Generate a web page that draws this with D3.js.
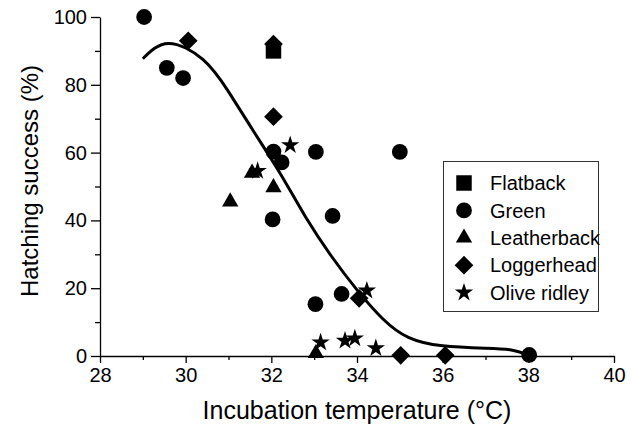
<!DOCTYPE html>
<html>
<head>
<meta charset="utf-8">
<script src="https://cdn.jsdelivr.net/npm/d3@7"></script>
<style>
  body { margin: 0; background: #fff; }
  svg text { font-family: "Liberation Sans", Arial, Helvetica, sans-serif; fill: #000; }
</style>
</head>
<body>
<svg id="chart" width="632" height="431"></svg>
<script>
// species and their points [temperature, hatching %]
let species = ["Flatback", "Green", "Leatherback", "Loggerhead", "Olive ridley"];
let flatback = [[32.05, 90]];
let green = [
  [29.03, 100], [29.56, 85], [29.94, 82], [32.05, 60.3], [32.24, 57.1],
  [33.04, 60.2], [32.03, 40.3], [33.43, 41.3], [33.03, 15.3], [33.64, 18.3],
  [35.0, 60.2], [38.02, 0.3]
];
let leatherback = [[31.04, 45.5], [32.05, 49.7], [31.55, 54], [33.04, 0.8]];
let loggerhead = [
  [30.06, 93], [32.05, 92], [32.05, 70.6], [34.05, 17], [35.02, 0.2], [36.06, 0.2]
];
let oliveRidley = [
  [32.44, 62.2], [31.68, 54.6], [33.15, 4], [33.72, 4.5], [33.95, 5.2],
  [34.44, 2.3], [34.23, 19.3]
];
// fitted curve
let fitCurve = [
  [29.0, 87.7], [29.6, 92.2], [30.4, 87.5], [31.0, 78], [31.6, 66],
  [32.2, 54], [32.8, 41], [33.4, 29.5], [34.0, 19.5], [34.6, 11],
  [35.2, 5.5], [36.0, 3], [37.0, 2.3], [37.6, 1.8], [38.0, 0.3]
];
let xTicks = [28, 30, 32, 34, 36, 38, 40];
let xMinor = [29, 31, 33, 35, 37, 39];
let yTicks = [0, 20, 40, 60, 80, 100];
let yMinor = [10, 30, 50, 70, 90];

let svg = d3.select("#chart");
let scaleX = d3.scaleLinear().domain([28, 40]).range([100, 614]);
let scaleY = d3.scaleLinear().domain([0, 100]).range([356, 17]);

// symbols
let symCircle = d3.symbol().type(d3.symbolCircle).size(195);
let symSquare = d3.symbol().type(d3.symbolSquare).size(240);
let symTriangle = d3.symbol().type(d3.symbolTriangle).size(115);
let symDiamond = d3.symbol().type(d3.symbolSquare).size(175);
let symStar = d3.symbol().type(d3.symbolStar).size(105);
let shapes = {
  "Flatback": { path: symSquare(), rot: 0 },
  "Green": { path: symCircle(), rot: 0 },
  "Leatherback": { path: symTriangle(), rot: 0 },
  "Loggerhead": { path: symDiamond(), rot: 45 },
  "Olive ridley": { path: symStar(), rot: 0 }
};

// minor ticks
svg.append("g")
  .attr("transform", "translate(0, 356)")
  .call(d3.axisBottom(scaleX).tickValues(xMinor).tickSize(4).tickFormat(""))
  .call(g => g.select(".domain").remove());
svg.append("g")
  .attr("transform", "translate(100, 0)")
  .call(d3.axisLeft(scaleY).tickValues(yMinor).tickSize(5).tickFormat(""))
  .call(g => g.select(".domain").remove());

// major axes
let axisX = d3.axisBottom(scaleX).tickValues(xTicks).tickSizeInner(7).tickSizeOuter(0).tickPadding(5);
let axisY = d3.axisLeft(scaleY).tickValues(yTicks).tickSizeInner(9).tickSizeOuter(0).tickPadding(4);
svg.append("g")
  .attr("class", "x-axis")
  .attr("transform", "translate(0, 356)")
  .call(axisX);
svg.append("g")
  .attr("class", "y-axis")
  .attr("transform", "translate(100, 0)")
  .call(axisY);
svg.selectAll(".x-axis text, .y-axis text")
  .style("font-size", "20px")
  .style("font-family", "'Liberation Sans', Arial, sans-serif");
svg.selectAll(".domain, .tick line").attr("stroke", "#000").attr("stroke-width", 1.3);

// axis titles
svg.append("text")
  .attr("x", 357)
  .attr("y", 419)
  .attr("text-anchor", "middle")
  .style("font-size", "25px")
  .text("Incubation temperature (°C)");
svg.append("text")
  .attr("transform", "translate(38, 181) rotate(-90)")
  .attr("text-anchor", "middle")
  .style("font-size", "24px")
  .text("Hatching success (%)");

// fitted line
let line = d3.line()
  .x(d => scaleX(d[0]))
  .y(d => scaleY(d[1]))
  .curve(d3.curveNatural);
svg.append("path")
  .datum(fitCurve)
  .attr("d", line)
  .attr("fill", "none")
  .attr("stroke", "#000")
  .attr("stroke-width", 3);

// points
function drawPoints(data, name) {
  svg.selectAll(".pt-" + name.replace(" ", "-"))
    .data(data)
    .enter()
    .append("path")
    .attr("d", shapes[name].path)
    .attr("transform", d => `translate(${scaleX(d[0])}, ${scaleY(d[1])}) rotate(${shapes[name].rot})`)
    .style("fill", "#000");
}
drawPoints(green, "Green");
drawPoints(leatherback, "Leatherback");
drawPoints(loggerhead, "Loggerhead");
drawPoints(oliveRidley, "Olive ridley");
drawPoints(flatback, "Flatback");

// legend
let legend = svg.append("g");
legend.append("rect")
  .attr("x", 443.5)
  .attr("y", 161.5)
  .attr("width", 155)
  .attr("height", 150)
  .attr("fill", "#fff")
  .attr("stroke", "#333")
  .attr("stroke-width", 1);
let rows = legend.selectAll(".row")
  .data(species)
  .enter()
  .append("g")
  .attr("transform", (d, i) => `translate(464, ${183 + i * 27.4})`);
rows.append("path")
  .attr("d", d => shapes[d].path)
  .attr("transform", d => `rotate(${shapes[d].rot})`)
  .style("fill", "#000");
rows.append("text")
  .attr("x", 26)
  .attr("dy", "0.36em")
  .style("font-size", "20px")
  .text(d => d);
</script>
</body>
</html>
